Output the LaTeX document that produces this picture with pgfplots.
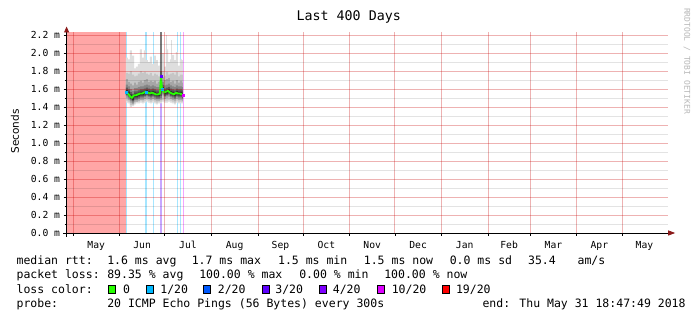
\documentclass[border=0pt]{standalone}
\usepackage{fontspec}
\usepackage{pgfplots}
\pgfplotsset{compat=1.18}
\usepackage{pgfplotstable}
\usepgfplotslibrary{fillbetween}
\usetikzlibrary{arrows.meta}
\tikzset{fill between/on layer=main}
\newfontfamily\mono{DejaVu Sans Mono}
\newfontfamily\dsans{DejaVu Sans}
\definecolor{lossA}{HTML}{26FF00}
\definecolor{lossB}{HTML}{00B8FF}
\definecolor{lossC}{HTML}{0059FF}
\definecolor{lossD}{HTML}{5E00FF}
\definecolor{lossE}{HTML}{7E00FF}
\definecolor{lossF}{HTML}{DD00FF}
\definecolor{lossG}{HTML}{FF0000}
\definecolor{arrowred}{HTML}{8B1A1A}
\definecolor{mgrid}{RGB}{200,0,0}
\definecolor{smA}{HTML}{DEDEDE}
\definecolor{smB}{HTML}{C6C6C6}
\definecolor{smC}{HTML}{A6A6A6}
\definecolor{smD}{HTML}{858585}
\definecolor{smE}{HTML}{5A5A5A}
\definecolor{smF}{HTML}{303030}
\definecolor{smS}{HTML}{7A7A7A}

\pgfplotstableread{
x     At   Ab   Bt   Bb   Ct   Cb   Dt   Db   Et    Eb    Ft   Fb
35.2  1.95 1.45 1.78 1.47 1.71 1.50 1.65 1.52 1.615 1.535 1.59 1.55
36.6  1.93 1.44 1.77 1.46 1.68 1.48 1.63 1.50 1.595 1.515 1.57 1.53
37.9  2.03 1.40 1.80 1.42 1.66 1.45 1.60 1.47 1.565 1.485 1.54 1.50
39.2  1.97 1.41 1.76 1.43 1.64 1.43 1.58 1.45 1.545 1.465 1.52 1.48
40.6  1.83 1.43 1.74 1.45 1.67 1.46 1.61 1.48 1.575 1.495 1.55 1.51
41.9  1.85 1.44 1.75 1.46 1.65 1.46 1.61 1.48 1.575 1.495 1.55 1.51
43.2  1.88 1.44 1.77 1.46 1.68 1.47 1.62 1.49 1.585 1.505 1.56 1.52
44.5  2.04 1.45 1.80 1.47 1.69 1.48 1.63 1.50 1.595 1.515 1.57 1.53
45.9  1.95 1.44 1.78 1.46 1.67 1.48 1.63 1.50 1.595 1.515 1.57 1.53
47.2  2.03 1.45 1.79 1.47 1.70 1.49 1.64 1.51 1.605 1.525 1.58 1.54
48.5  1.92 1.46 1.77 1.48 1.71 1.50 1.65 1.52 1.615 1.535 1.59 1.55
49.9  1.90 1.45 1.76 1.47 1.68 1.49 1.64 1.51 1.605 1.525 1.58 1.54
51.2  1.96 1.44 1.78 1.46 1.69 1.48 1.63 1.50 1.595 1.515 1.57 1.53
52.5  1.88 1.45 1.75 1.47 1.68 1.49 1.64 1.51 1.605 1.525 1.58 1.54
53.9  1.97 1.44 1.77 1.46 1.69 1.48 1.63 1.50 1.595 1.515 1.57 1.53
55.2  1.92 1.43 1.76 1.45 1.66 1.47 1.62 1.49 1.585 1.505 1.56 1.52
56.5  1.86 1.44 1.74 1.46 1.68 1.47 1.62 1.49 1.585 1.505 1.56 1.52
57.8  1.93 1.44 1.76 1.46 1.69 1.48 1.63 1.50 1.595 1.515 1.57 1.53
59.2  2.00 1.46 1.80 1.48 1.73 1.53 1.68 1.55 1.645 1.565 1.62 1.58
60.5  1.85 1.45 1.75 1.47 1.70 1.49 1.64 1.51 1.605 1.525 1.58 1.54
61.8  2.04 1.45 1.79 1.47 1.71 1.50 1.65 1.52 1.615 1.535 1.59 1.55
63.2  1.90 1.46 1.76 1.48 1.72 1.51 1.66 1.53 1.625 1.545 1.60 1.56
64.5  1.93 1.45 1.77 1.47 1.68 1.49 1.64 1.51 1.605 1.525 1.58 1.54
65.8  1.98 1.44 1.78 1.46 1.69 1.48 1.63 1.50 1.595 1.515 1.57 1.53
67.2  1.92 1.43 1.76 1.45 1.66 1.47 1.62 1.49 1.585 1.505 1.56 1.52
68.5  2.01 1.45 1.79 1.47 1.70 1.49 1.64 1.51 1.605 1.525 1.58 1.54
69.8  1.86 1.44 1.74 1.46 1.67 1.48 1.63 1.50 1.595 1.515 1.57 1.53
71.1  1.93 1.44 1.76 1.46 1.69 1.48 1.63 1.50 1.595 1.515 1.57 1.53
72.5  1.92 1.44 1.76 1.46 1.67 1.47 1.62 1.49 1.585 1.505 1.56 1.52
73.1  1.92 1.44 1.76 1.46 1.66 1.46 1.61 1.48 1.575 1.495 1.55 1.51
}\smoke

\pgfplotstableread{
x     med
35.2  1.57
36.6  1.55
37.9  1.52
39.2  1.50
40.6  1.53
41.9  1.53
43.2  1.54
44.5  1.55
45.9  1.55
47.2  1.56
48.5  1.57
49.9  1.56
51.2  1.55
52.5  1.56
53.9  1.55
55.2  1.54
56.5  1.54
57.8  1.55
58.5  1.74
59.2  1.60
60.5  1.56
61.8  1.57
63.2  1.58
64.5  1.56
65.8  1.55
67.2  1.54
68.5  1.56
69.8  1.55
71.1  1.55
72.5  1.54
73.1  1.53
}\median

\newcommand{\lf}{\mono\fontsize{11.5}{14}\selectfont}

\begin{document}
\begin{tikzpicture}
\fill[white] (0,0) rectangle (697pt,321pt);
\begin{axis}[
  at={(66.6pt,88pt)}, anchor=south west,
  scale only axis, width=601.6pt, height=200.5pt,
  xmin=-4.22, xmax=395.78, ymin=0, ymax=2.228,
  axis lines=left,
  axis line style={line width=0.8pt, black},
  x axis line style={shorten <=-3.6pt, shorten >=-7pt, -{Triangle[length=7pt,width=5pt,color=arrowred]}},
  y axis line style={shorten <=-4pt, shorten >=-6pt, -{Triangle[length=6pt,width=5pt,color=arrowred]}},
  xtick={0,31,61,92,123,153,184,214,245,276,304,335,365},
  xticklabels={},
  extra x ticks={15.5,46,76.5,107.5,138,168.5,199,229.5,260.5,290,319.5,350,380},
  extra x tick labels={May,Jun,Jul,Aug,Sep,Oct,Nov,Dec,Jan,Feb,Mar,Apr,May},
  extra x tick style={major tick length=0pt, grid=none, xticklabel style={anchor=base, yshift=-16pt}},
  ytick={0,0.2,0.4,0.6,0.8,1.0,1.2,1.4,1.6,1.8,2.0,2.2},
  yticklabels={0.0 m,0.2 m,0.4 m,0.6 m,0.8 m,1.0 m,1.2 m,1.4 m,1.6 m,1.8 m,2.0 m,2.2 m},
  minor ytick={0.1,0.3,0.5,0.7,0.9,1.1,1.3,1.5,1.7,1.9,2.1},
  tick align=outside, major tick length=3pt, minor tick length=2pt,
  tick style={black, line width=0.6pt},
  xmajorgrids, ymajorgrids, yminorgrids,
  major grid style={draw=mgrid, opacity=0.3, line width=0.8pt},
  minor grid style={draw=black, opacity=0.11, line width=0.8pt},
  tick label style={font=\mono\fontsize{9.7}{12}\selectfont},
  axis on top,
  title={Last 400 Days},
  title style={at={(axis description cs:0.469,1)}, anchor=base, yshift=6pt, inner sep=0pt, font=\mono\fontsize{13.3}{16}\selectfont},
  ylabel={Seconds},
  ylabel style={at={(axis description cs:-0.0858,0.506)}, anchor=center, font=\dsans\fontsize{10.5}{12}\selectfont},
]
% loss bars
\addplot[fill=lossG!35!white, draw=none] coordinates {(-4.22,0) (-4.22,2.228) (35.2,2.228) (35.2,0)} -- cycle;
\addplot[fill=lossB!35!white, draw=none] coordinates {(35.2,0) (35.2,2.228) (35.9,2.228) (35.9,0)} -- cycle;
\addplot[fill=lossB!35!white, draw=none] coordinates {(47.9,0) (47.9,2.228) (49.2,2.228) (49.2,0)} -- cycle;
\addplot[fill=lossB!35!white, draw=none] coordinates {(53.2,0) (53.2,2.228) (53.9,2.228) (53.9,0)} -- cycle;
\addplot[fill=lossD!35!white, draw=none] coordinates {(57.8,0) (57.8,2.228) (59.2,2.228) (59.2,0)} -- cycle;
\addplot[fill=lossB!35!white, draw=none] coordinates {(69.1,0) (69.1,2.228) (69.8,2.228) (69.8,0)} -- cycle;
\addplot[fill=lossB!35!white, draw=none] coordinates {(71.1,0) (71.1,2.228) (71.8,2.228) (71.8,0)} -- cycle;
\addplot[fill=lossF!35!white, draw=none] coordinates {(73.1,0) (73.1,2.228) (73.8,2.228) (73.8,0)} -- cycle;
% smoke
\addplot[const plot, draw=none, name path=At] table[x=x,y=At] {\smoke};
\addplot[const plot, draw=none, name path=Ab] table[x=x,y=Ab] {\smoke};
\addplot[fill=smA, draw=none] fill between[of=At and Ab];
\addplot[const plot, draw=none, name path=Bt] table[x=x,y=Bt] {\smoke};
\addplot[const plot, draw=none, name path=Bb] table[x=x,y=Bb] {\smoke};
\addplot[fill=smB, draw=none] fill between[of=Bt and Bb];
\addplot[const plot, draw=none, name path=Ct] table[x=x,y=Ct] {\smoke};
\addplot[const plot, draw=none, name path=Cb] table[x=x,y=Cb] {\smoke};
\addplot[fill=smC, draw=none] fill between[of=Ct and Cb];
\addplot[const plot, draw=none, name path=Dt] table[x=x,y=Dt] {\smoke};
\addplot[const plot, draw=none, name path=Db] table[x=x,y=Db] {\smoke};
\addplot[fill=smD, draw=none] fill between[of=Dt and Db];
\addplot[const plot, draw=none, name path=Et] table[x=x,y=Et] {\smoke};
\addplot[const plot, draw=none, name path=Eb] table[x=x,y=Eb] {\smoke};
\addplot[fill=smE, draw=none] fill between[of=Et and Eb];
\addplot[const plot, draw=none, name path=Ft] table[x=x,y=Ft] {\smoke};
\addplot[const plot, draw=none, name path=Fb] table[x=x,y=Fb] {\smoke};
\addplot[fill=smF, draw=none] fill between[of=Ft and Fb];
% spikes
\addplot[fill=smS, draw=none] coordinates {(58.1,1.50) (58.1,2.228) (58.9,2.228) (58.9,1.50)} -- cycle;
\addplot[fill=smE, draw=none] coordinates {(58.1,1.52) (58.1,1.80) (58.9,1.80) (58.9,1.52)} -- cycle;
\addplot[draw=smA, line width=0.8pt] coordinates {(62.3,1.90) (62.3,2.20)};
\addplot[draw=smA, line width=0.8pt] coordinates {(65.6,1.90) (65.6,2.15)};
% median
\addplot[lossA, line width=1.8pt, line join=round, mark=none] table[x=x,y=med] {\median};
\addplot[only marks, mark=square*, mark size=1pt, lossB] coordinates {(35.2,1.57) (48.5,1.57) (59.2,1.60)};
\addplot[only marks, mark=square*, mark size=1pt, lossD] coordinates {(58.5,1.74)};
\addplot[only marks, mark=square*, mark size=1pt, lossF] coordinates {(73.1,1.53)};
\end{axis}
% watermark
\node[rotate=-90, font=\mono\fontsize{8}{10}\selectfont, text=black!28] at (687pt,260pt) {RRDTOOL / TOBI OETIKER};
% legend lines
\node[anchor=base west, inner sep=0pt, font=\lf] at (16.4pt,56pt) {median rtt:};
\node[anchor=base west, inner sep=0pt, font=\lf] at (107.1pt,56pt) {1.6 ms avg};
\node[anchor=base west, inner sep=0pt, font=\lf] at (191.6pt,56pt) {1.7 ms max};
\node[anchor=base west, inner sep=0pt, font=\lf] at (277.9pt,56pt) {1.5 ms min};
\node[anchor=base west, inner sep=0pt, font=\lf] at (363.7pt,56pt) {1.5 ms now};
\node[anchor=base west, inner sep=0pt, font=\lf] at (449.6pt,56pt) {0.0 ms sd};
\node[anchor=base west, inner sep=0pt, font=\lf] at (527.9pt,56pt) {35.4};
\node[anchor=base west, inner sep=0pt, font=\lf] at (577.4pt,56pt) {am/s};
\node[anchor=base west, inner sep=0pt, font=\lf] at (16.4pt,42pt) {packet loss:};
\node[anchor=base west, inner sep=0pt, font=\lf] at (107.1pt,42pt) {89.35 \% avg};
\node[anchor=base west, inner sep=0pt, font=\lf] at (199.1pt,42pt) {100.00 \% max};
\node[anchor=base west, inner sep=0pt, font=\lf] at (299.1pt,42pt) {0.00 \% min};
\node[anchor=base west, inner sep=0pt, font=\lf] at (384.1pt,42pt) {100.00 \% now};
\node[anchor=base west, inner sep=0pt, font=\lf] at (16.4pt,27.7pt) {loss color:};
\draw[fill=lossA, line width=0.6pt] (108.4pt,27.7pt) rectangle (115.4pt,35.2pt);
\node[anchor=base west, inner sep=0pt, font=\lf] at (123pt,27.7pt) {0};
\draw[fill=lossB, line width=0.6pt] (146pt,27.7pt) rectangle (153pt,35.2pt);
\node[anchor=base west, inner sep=0pt, font=\lf] at (160.2pt,27.7pt) {1/20};
\draw[fill=lossC, line width=0.6pt] (203.5pt,27.7pt) rectangle (210.5pt,35.2pt);
\node[anchor=base west, inner sep=0pt, font=\lf] at (217.7pt,27.7pt) {2/20};
\draw[fill=lossD, line width=0.6pt] (262pt,27.7pt) rectangle (269pt,35.2pt);
\node[anchor=base west, inner sep=0pt, font=\lf] at (275.2pt,27.7pt) {3/20};
\draw[fill=lossE, line width=0.6pt] (319.5pt,27.7pt) rectangle (326.5pt,35.2pt);
\node[anchor=base west, inner sep=0pt, font=\lf] at (332.7pt,27.7pt) {4/20};
\draw[fill=lossF, line width=0.6pt] (377.4pt,27.7pt) rectangle (384.4pt,35.2pt);
\node[anchor=base west, inner sep=0pt, font=\lf] at (391.6pt,27.7pt) {10/20};
\draw[fill=lossG, line width=0.6pt] (442.5pt,27.7pt) rectangle (449.5pt,35.2pt);
\node[anchor=base west, inner sep=0pt, font=\lf] at (455.8pt,27.7pt) {19/20};
\node[anchor=base west, inner sep=0pt, font=\lf] at (16.4pt,13.7pt) {probe:};
\node[anchor=base west, inner sep=0pt, font=\lf] at (107.1pt,13.7pt) {20 ICMP Echo Pings (56 Bytes) every 300s};
\node[anchor=base west, inner sep=0pt, font=\lf] at (482.3pt,13.7pt) {end: Thu May 31 18:47:49 2018};
\pgfresetboundingbox
\path (0,0) rectangle (697pt,321pt);
\end{tikzpicture}
\end{document}
